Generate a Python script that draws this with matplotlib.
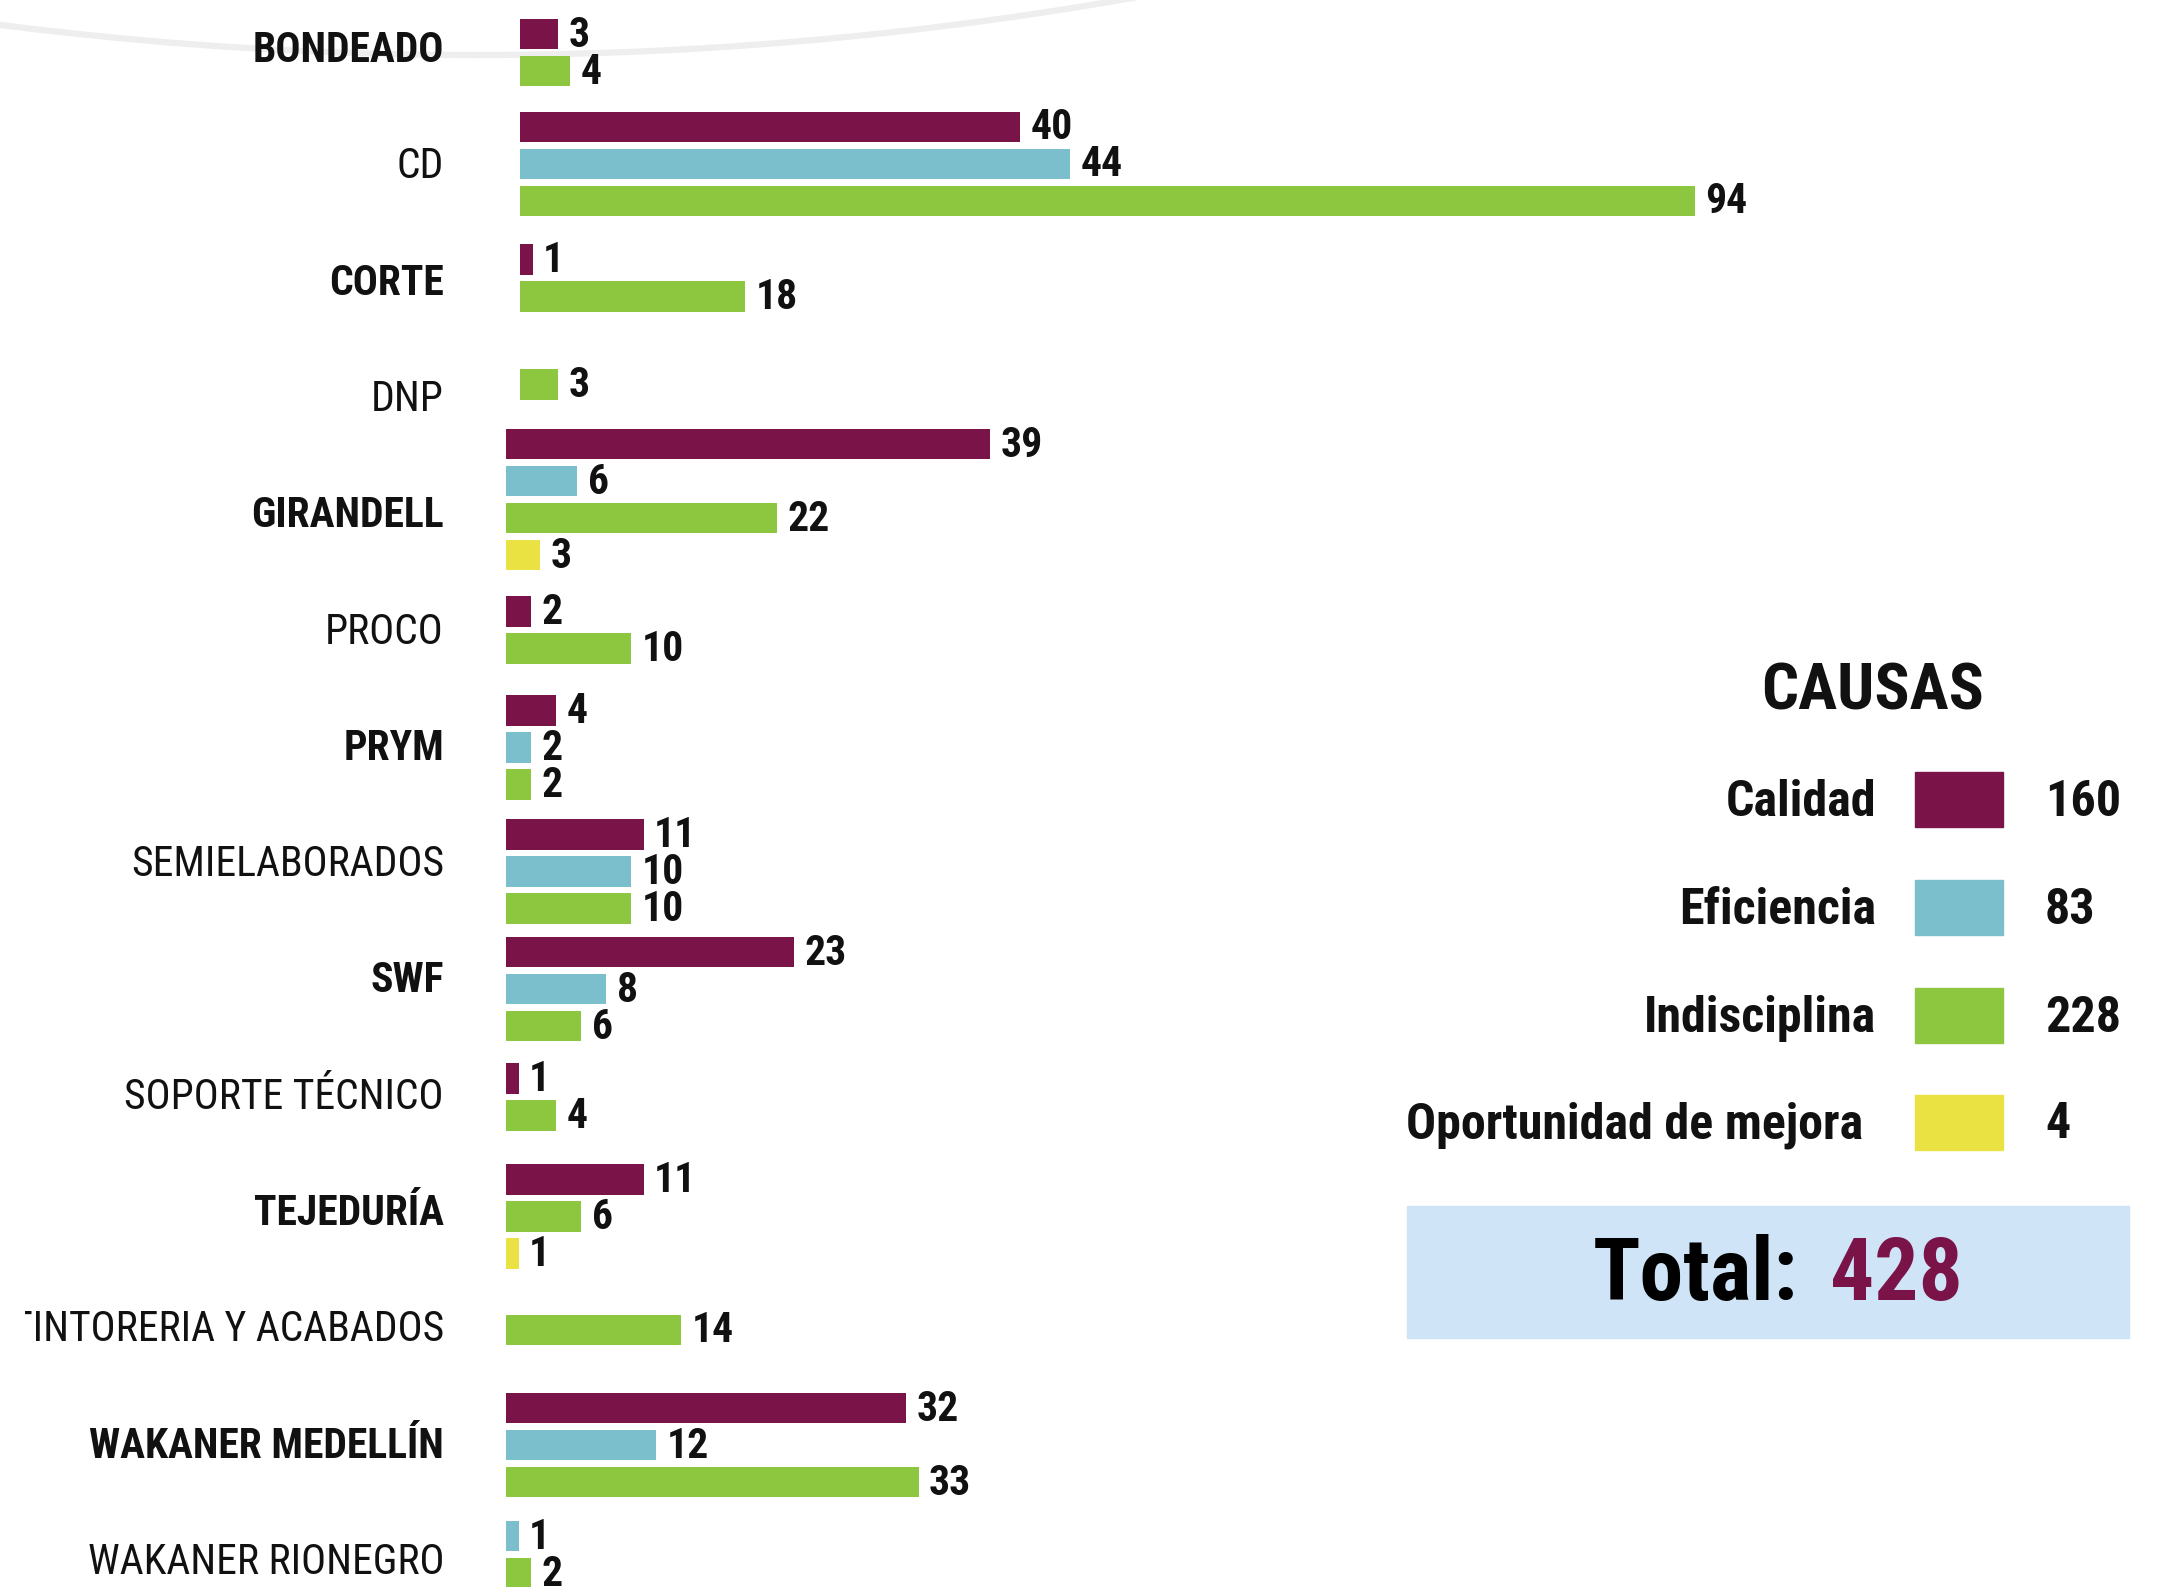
import matplotlib
matplotlib.use("Agg")
import matplotlib.pyplot as plt
from matplotlib.patches import Rectangle, Circle
from matplotlib.transforms import Bbox
from matplotlib import font_manager

# ---------------- data ----------------
areas = ["BONDEADO", "CD", "CORTE", "DNP", "GIRANDELL", "PROCO", "PRYM",
         "SEMIELABORADOS", "SWF", "SOPORTE TÉCNICO", "TEJEDURÍA",
         "TINTORERIA Y ACABADOS", "WAKANER MEDELLÍN", "WAKANER RIONEGRO"]
area_bold = [True, False, True, False, True, False, True,
             False, True, False, True, False, True, False]
calidad      = [3, 40, 1, 0, 39, 2, 4, 11, 23, 1, 11, 0, 32, 0]
eficiencia   = [0, 44, 0, 0, 6, 0, 2, 10, 8, 0, 0, 0, 12, 1]
indisciplina = [4, 94, 18, 3, 22, 10, 2, 10, 6, 4, 6, 14, 33, 2]
oportunidad  = [0, 0, 0, 0, 3, 0, 0, 0, 0, 0, 1, 0, 0, 0]
causas = ["Calidad", "Eficiencia", "Indisciplina", "Oportunidad de mejora"]
causa_totales = [160, 83, 228, 4]
total_label = "Total:"
total_value = 428
legend_title = "CAUSAS"

colors = ["#7a1448", "#7bbecc", "#8dc63f", "#eae242"]
series = [calidad, eficiencia, indisciplina, oportunidad]

# layout tweaks (pixels of the final image): vertical shift of each bar group
# and left edge of each group's bars
group_shift_px = [2, -3, -5, -15, -16, -2, -1, 7, 8, 0, 3, 0, -1, -8]
group_left_px = [520, 520, 520, 520, 502, 506, 506, 506, 506, 506, 506, 506, 506, 506]
legend_right_px = [1876, 1876, 1876, 1863]

avail = {f.name for f in font_manager.fontManager.ttflist}
fam = [f for f in ["Roboto Condensed", "Liberation Sans Narrow", "Roboto"] if f in avail] + ["DejaVu Sans"]
plt.rcParams['font.family'] = fam

W, H = 2163, 1587
fig = plt.figure(figsize=(W / 100, H / 100), dpi=100)
fig.patch.set_facecolor("white")

# overlay axes in pixel coordinates (decoration + legend)
ov = fig.add_axes([0, 0, 1, 1], zorder=0)
ov.set_xlim(0, W)
ov.set_ylim(H, 0)
ov.axis("off")
ov.add_patch(Circle((477, -3738), 3793, fill=False, lw=4.5, ec="#eeeeee"))

# main bar axes
x0_px, scale_px, row_px, top_px = 506, 12.5, 116.3, 50.5
ax = fig.add_axes([x0_px / W, 0, 100 * scale_px / W, 1], zorder=2)
ax.patch.set_alpha(0)
ax.set_xlim(0, 100)
ax.set_ylim((H - top_px) / row_px, -top_px / row_px)
ax.axis("off")

step, bh = 0.318, 0.262
for i, name in enumerate(areas):
    present = [(k, s[i]) for k, s in enumerate(series) if s[i] > 0]
    n = len(present)
    left = (group_left_px[i] - x0_px) / scale_px
    dy = group_shift_px[i] / row_px
    for j, (k, v) in enumerate(present):
        y = i + dy + (j - (n - 1) / 2) * step
        ax.barh(y, v, left=left, height=bh, color=colors[k], edgecolor="none")
        ax.text(left + v + 0.85, y + 0.01, str(v), ha="left", va="center",
                fontsize=30, fontweight="bold", color="#111111")
    t = ax.text(-(x0_px - 444) / scale_px, i, name, ha="right", va="center",
                fontsize=30, fontweight="bold" if area_bold[i] else "normal",
                color="#111111", clip_on=True)
    t.set_clip_box(Bbox([[25, 0], [W, H]]))

# legend
ov.text(1873, 692, legend_title, ha="center", va="center", fontsize=47,
        fontweight="bold", color="#111111")
rows_y = [799, 907, 1015, 1122]
for k, (lab, tot) in enumerate(zip(causas, causa_totales)):
    yy = rows_y[k]
    ov.text(legend_right_px[k], yy + 3, lab, ha="right", va="center", fontsize=36,
            fontweight="bold", color="#111111")
    ov.add_patch(Rectangle((1915, yy - 27.5), 88, 55, color=colors[k]))
    ov.text(2045, yy + 3, str(tot), ha="left", va="center", fontsize=36,
            fontweight="bold", color="#111111")

ov.add_patch(Rectangle((1407, 1206), 722, 132, color="#cfe4f7"))
ov.text(1798, 1276, total_label, ha="right", va="center", fontsize=63,
        fontweight="bold", color="#000000")
ov.text(1830, 1276, str(total_value), ha="left", va="center", fontsize=63,
        fontweight="bold", color=colors[0])

fig.savefig("out.png", dpi=100)
